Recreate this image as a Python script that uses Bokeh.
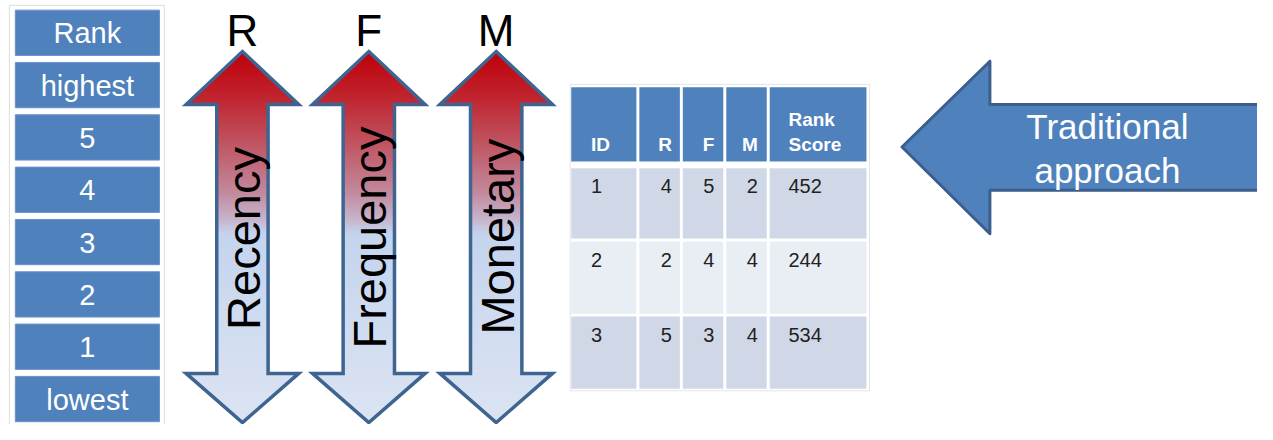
import numpy as np
from bokeh.plotting import figure
from bokeh.models import Range1d
from bokeh.core.properties import value
from bokeh.embed import file_html
from bokeh.resources import INLINE

# ---------------- data ----------------
rank_labels = ["Rank", "highest", "5", "4", "3", "2", "1", "lowest"]
arrow_letters = ["R", "F", "M"]
arrow_words = ["Recency", "Frequency", "Monetary"]
table_headers = ["ID", "R", "F", "M", "Rank Score"]
ids = ["1", "2", "3"]
r_scores = ["4", "2", "5"]
f_scores = ["5", "4", "3"]
m_scores = ["2", "4", "4"]
rank_scores = ["452", "244", "534"]
callout_lines = ["Traditional", "approach"]

FONT = value("Liberation Sans")
BLUE = "#4F81BD"
OUTLINE = "#3E6592"

W, H = 1257, 424
p = figure(width=W, height=H, x_range=Range1d(0, 1273), y_range=Range1d(440, 0),
           output_backend="svg", toolbar_location=None, min_border=0)
p.axis.visible = False
p.grid.visible = False
p.outline_line_color = None
p.background_fill_color = "white"
p.border_fill_color = "white"

# ---------------- rank column ----------------
p.quad(left=[9], right=[166], top=[5], bottom=[445], fill_color=None,
       line_color="#DDDDDD", line_width=1)
n = len(rank_labels)
tops = [10 + 54.3 * i for i in range(n)]
p.quad(left=[15] * n, right=[161] * n, top=tops, bottom=[t + 47 for t in tops],
       fill_color=BLUE, line_color="#6A93C8", line_width=1)
p.text(x=[88] * n, y=[t + 24 for t in tops], text=rank_labels, text_font=FONT,
       text_font_size="29px", text_color="white", text_align="center",
       text_baseline="middle")

# ---------------- gradient double arrows ----------------
stops_y = [53, 100, 150, 200, 228, 242, 438]
stops_c = np.array([[190, 0, 10], [192, 36, 46], [192, 86, 100], [194, 138, 158],
                    [198, 182, 206], [196, 212, 238], [220, 228, 242]], dtype=float)
tip_top, head_top, head_bot, tip_bot = 53, 108, 387, 438
half_head, half_shaft = 57, 26
centers = [245, 373, 502]

def half_width(y):
    if y < head_top:
        return half_head * max(y - tip_top, 0) / (head_top - tip_top)
    if y <= head_bot:
        return half_shaft
    return half_head * max(tip_bot - y, 0) / (tip_bot - head_bot)

ys = np.arange(tip_top, tip_bot, 1.0)
cols = []
for y in ys:
    c = [np.interp(y + 0.5, stops_y, stops_c[:, k]) for k in range(3)]
    cols.append("#%02x%02x%02x" % tuple(int(round(v)) for v in c))
for cx in centers:
    hw = [half_width(y + 1.0) for y in ys]
    p.quad(left=[cx - h for h in hw], right=[cx + h for h in hw], top=list(ys),
           bottom=list(ys + 2.2), fill_color=cols, fill_alpha=1.0, line_color=None)
    xs = [cx, cx + half_head, cx + half_shaft, cx + half_shaft, cx + half_head, cx,
          cx - half_head, cx - half_shaft, cx - half_shaft, cx - half_head]
    yy = [tip_top, head_top, head_top, head_bot, head_bot, tip_bot,
          head_bot, head_bot, head_top, head_top]
    p.patch(xs, yy, fill_color=None, line_color=OUTLINE, line_width=3.5, line_join="miter")

p.text(x=centers, y=[31] * 3, text=arrow_letters, text_font=FONT, text_font_size="44px",
       text_color="black", text_align="center", text_baseline="middle")
p.text(x=[c + 1 for c in centers], y=[247, 246, 245], text=arrow_words, text_font=FONT,
       text_font_size="47px", text_color="black", text_align="center",
       text_baseline="alphabetic", angle=np.pi / 2)

# ---------------- table ----------------
p.quad(left=[577], right=[880], top=[87], bottom=[405], fill_color=None,
       line_color="#E4E4E4", line_width=1)
col_l = [578, 647, 691, 735, 779]
col_r = [644, 688, 732, 776, 877]
p.quad(left=col_l, right=col_r, top=[90] * 5, bottom=[167] * 5,
       fill_color=BLUE, line_color=None)
row_t = [174, 250, 328]
row_b = [247, 325, 403]
row_fill = ["#D0D8E8", "#E9EDF4", "#D0D8E8"]
for rt, rb, rf in zip(row_t, row_b, row_fill):
    p.quad(left=col_l, right=col_r, top=[rt] * 5, bottom=[rb] * 5,
           fill_color=rf, line_color=None)

col_align = ["left", "right", "right", "right", "left"]
col_x = [col_l[0] + 20, col_r[1] - 8, col_r[2] - 9, col_r[3] - 9, col_l[4] + 19]
hx, hy, htxt, halign = [], [], [], []
for j, h in enumerate(table_headers):
    words = h.split(" ")
    for k, w in enumerate(words):
        hx.append(col_x[j])
        hy.append(149 - 26 * (len(words) - 1 - k))
        htxt.append(w)
        halign.append(col_align[j])
p.text(x=hx, y=hy, text=htxt, text_font=FONT, text_font_size="19px",
       text_font_style="bold", text_color="white", text_align=halign,
       text_baseline="middle")
columns = [ids, r_scores, f_scores, m_scores, rank_scores]
for j, colvals in enumerate(columns):
    p.text(x=[col_x[j]] * len(colvals), y=[rt + 19 for rt in row_t], text=colvals,
           text_font=FONT, text_font_size="20px", text_color="#222222",
           text_align=col_align[j], text_baseline="middle")

# ---------------- callout arrow ----------------
p.patch([913, 1002, 1002, 1300, 1300, 1002, 1002],
        [152, 63, 108, 108, 197, 197, 242],
        fill_color=BLUE, line_color="#3B5E8C", line_width=3, line_join="round")
p.text(x=[1121] * len(callout_lines), y=[131 + 45 * i for i in range(len(callout_lines))],
       text=callout_lines, text_font=FONT, text_font_size="35px",
       text_color="white", text_align="center", text_baseline="middle")

open("out.html", "w").write(file_html(p, INLINE))
